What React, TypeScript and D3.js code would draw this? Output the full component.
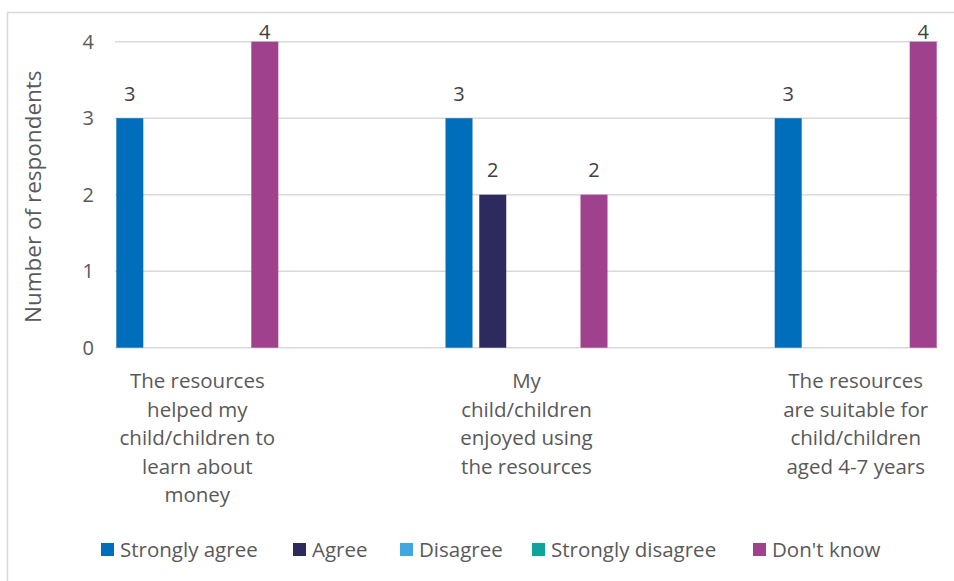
import React from "react";
import * as d3 from "d3";

const categories = [
  ["The resources", "helped my", "child/children to", "learn about", "money"],
  ["My", "child/children", "enjoyed using", "the resources"],
  ["The resources", "are suitable for", "child/children", "aged 4-7 years"],
];
const seriesNames = ["Strongly agree", "Agree", "Disagree", "Strongly disagree", "Don't know"];
const seriesColors = ["#006EBA", "#2D2A5E", "#41A8DF", "#0FA39B", "#A0418E"];
const stronglyAgree = [3, 3, 3];
const agree = [0, 2, 0];
const disagree = [0, 0, 0];
const stronglyDisagree = [0, 0, 0];
const dontKnow = [4, 2, 4];
const seriesValues = [stronglyAgree, agree, disagree, stronglyDisagree, dontKnow];
const yTicks = [0, 1, 2, 3, 4];
const yTitle = "Number of respondents";

const W = 954;
const H = 581;
const plotLeft = 115;
const plotRight = 938;
const plotTop = 41.7;
const plotBottom = 347.7;
const textColor = "#595959";
const gridColor = "#d9d9d9";
const font = "'Open Sans', sans-serif";

export default function App() {
  const x = d3
    .scalePoint<number>()
    .domain(categories.map((_, i) => i))
    .range([plotLeft, plotRight])
    .padding(0.25);
  const inner = d3
    .scaleBand<number>()
    .domain(seriesNames.map((_, i) => i))
    .range([-81, 81])
    .paddingInner(0.2)
    .paddingOuter(0);
  const y = d3.scaleLinear().domain([0, 4]).range([plotBottom, plotTop]);

  const legendX = [101, 293, 400, 532, 753];

  return (
    <svg
      width={W}
      height={H}
      style={{ position: "absolute", left: 0, top: 0, background: "#fff" }}
      fontFamily={font}
    >
      <rect x={0} y={0} width={W} height={H} fill="#fff" />
      <rect x={7.5} y={12.5} width={W + 20} height={H + 20} fill="none" stroke={gridColor} strokeWidth={1.5} />
      {yTicks.map((t) => (
        <g key={t}>
          <line x1={plotLeft} x2={plotRight} y1={y(t)} y2={y(t)} stroke={gridColor} strokeWidth={1.5} />
          <text x={94} y={y(t)} dy="0.36em" textAnchor="end" fontSize={20} fill={textColor}>
            {t}
          </text>
        </g>
      ))}
      <text
        transform={`translate(41,${(plotTop + plotBottom) / 2 + 2}) rotate(-90)`}
        textAnchor="middle"
        fontSize={22.5}
        fill={textColor}
      >
        {yTitle}
      </text>
      {categories.map((_, ci) =>
        seriesValues.map((vals, si) => {
          const v = vals[ci];
          if (!v) return null;
          const bx = (x(ci) as number) + (inner(si) as number);
          return (
            <g key={`${ci}-${si}`}>
              <rect x={bx} y={y(v)} width={inner.bandwidth()} height={plotBottom - y(v)} fill={seriesColors[si]} />
              <text
                x={bx + inner.bandwidth() / 2}
                y={Math.max(y(v) - 17.5, 38.5)}
                textAnchor="middle"
                fontSize={20}
                fill="#404040"
              >
                {v}
              </text>
            </g>
          );
        })
      )}
      {categories.map((lines, ci) => (
        <text key={ci} textAnchor="middle" fontSize={20.5} fill={textColor}>
          {lines.map((ln, li) => (
            <tspan key={li} x={x(ci) as number} y={388 + li * 28.5}>
              {ln}
            </tspan>
          ))}
        </text>
      ))}
      {seriesNames.map((name, i) => (
        <g key={name} transform={`translate(${legendX[i]},0)`}>
          <rect x={0} y={543} width={13} height={13} fill={seriesColors[i]} />
          <text x={19} y={549.5} dy="0.36em" fontSize={20.5} fill={textColor}>
            {name}
          </text>
        </g>
      ))}
    </svg>
  );
}
